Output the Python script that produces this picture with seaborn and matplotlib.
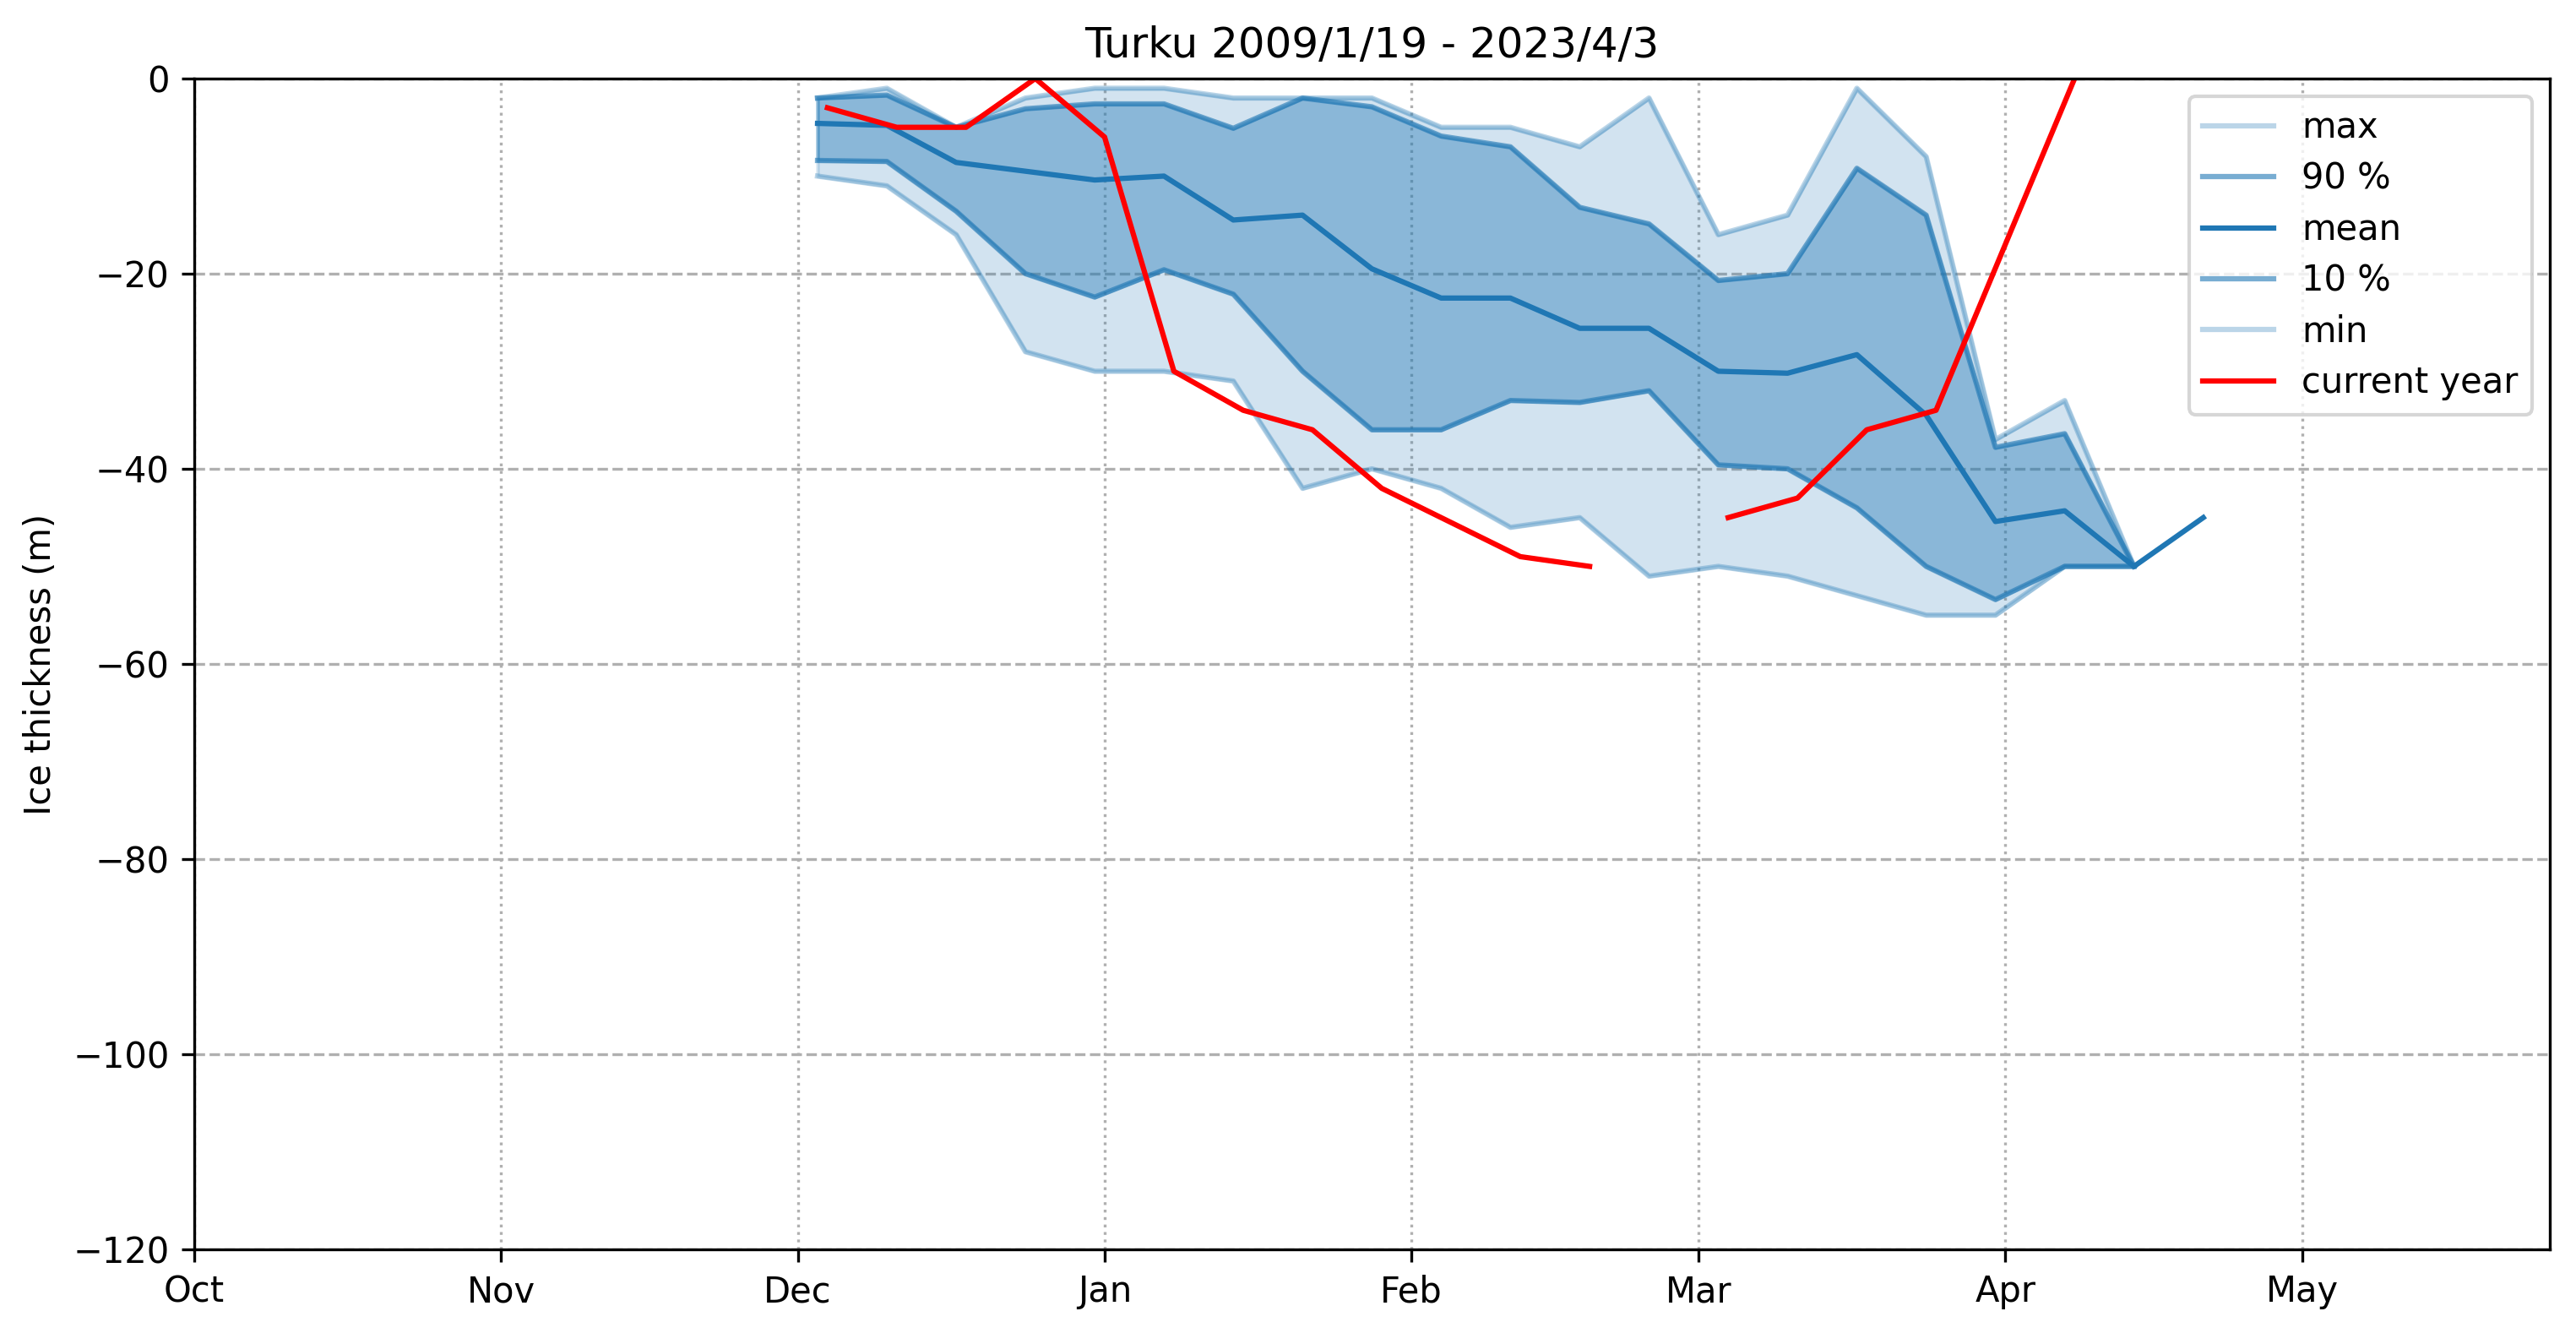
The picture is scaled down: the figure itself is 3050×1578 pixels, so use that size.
import numpy as np
import pandas as pd
import matplotlib
matplotlib.use("Agg")
import matplotlib.pyplot as plt
import matplotlib.dates as mdates
import seaborn as sns

# ---- data ----
stat_dates = pd.date_range("2023-12-03", periods=21, freq="7D")
max_vals = [-2, -1, -5, -2, -1, -1, -2, -2, -2, -5, -5, -7, -2, -16, -14, -1, -8, -37, -33, -50, np.nan]
p90_vals = [-2, -1.7, -5, -3.1, -2.6, -2.6, -5.1, -2, -2.9, -5.9, -7, -13.2, -14.9, -20.7, -20, -9.2,
            -14, -37.8, -36.4, -50, np.nan]
mean_vals = [-4.6, -4.8, -8.6, -9.5, -10.4, -10.0, -14.5, -14.0, -19.5, -22.5, -22.5, -25.6, -25.6,
             -30.0, -30.2, -28.3, -34.5, -45.4, -44.3, -50, -45]
p10_vals = [-8.4, -8.5, -13.6, -20.0, -22.4, -19.6, -22.1, -30.0, -36.0, -36.0, -33.0, -33.2, -32.0,
            -39.6, -40.0, -44.0, -50.0, -53.4, -50, -50, np.nan]
min_vals = [-10, -11, -16, -28, -30, -30, -31, -42, -40, -42, -46, -45, -51, -50, -51, -53, -55, -55,
            -50, -50, np.nan]

cur_dates = pd.date_range("2023-12-04", periods=19, freq="7D")
cur_vals = [-3, -5, -5, 0, -6, -30, -34, -36, -42, -45.5, -49, -50, np.nan, -45, -43, -36, -34, -17, 0]

title = "Turku 2009/1/19 - 2023/4/3"
ylabel = "Ice thickness (m)"

# ---- figure ----
fig = plt.figure(figsize=(3050 / 300, 1578 / 300), dpi=300)
ax = fig.add_axes([0.0753, 0.0627, 0.9898 - 0.0753, 0.9411 - 0.0627])

stats = pd.DataFrame({"date": stat_dates, "max": max_vals, "p90": p90_vals, "mean": mean_vals,
                      "p10": p10_vals, "min": min_vals})
band = stats.dropna(subset=["min", "max"])
ax.fill_between(band["date"], band["min"], band["max"], color="C0", alpha=0.2)
ax.fill_between(band["date"], band["p10"], band["p90"], color="C0", alpha=0.4)

handles = []
for col, lab, a in [("max", "max", 0.3), ("p90", "90 %", 0.6), ("mean", "mean", 1.0),
                    ("p10", "10 %", 0.6), ("min", "min", 0.3)]:
    sub = stats[["date", col]].dropna()
    sns.lineplot(x=sub["date"], y=sub[col], ax=ax, color="C0", alpha=a, label=lab, lw=1.5)
    handles.append(ax.lines[-1])

cur = pd.DataFrame({"date": cur_dates, "val": cur_vals})
cur["seg"] = cur["val"].isna().cumsum()
first = True
for seg, sub in cur.dropna().groupby("seg"):
    sns.lineplot(x=sub["date"], y=sub["val"], ax=ax, color="red", lw=1.5,
                 label="current year" if first else None)
    if first:
        handles.append(ax.lines[-1])
    first = False

ax.set_xlim(pd.Timestamp("2023-10-01"), pd.Timestamp("2024-05-26"))
ax.set_ylim(-120, 0)
ax.xaxis.set_major_locator(mdates.MonthLocator())
ax.xaxis.set_major_formatter(mdates.DateFormatter("%b"))
ax.grid(axis="y", linestyle="--", color="#b0b0b0", lw=0.8)
ax.grid(axis="x", linestyle=":", color="#b0b0b0", lw=0.8)
ax.set_axisbelow(True)
ax.set_xlabel("")
ax.set_ylabel(ylabel)
ax.set_title(title)
ax.legend(handles=handles, labels=["max", "90 %", "mean", "10 %", "min", "current year"],
          loc="upper right", labelspacing=0.44)

fig.savefig("out.png", dpi=300)
